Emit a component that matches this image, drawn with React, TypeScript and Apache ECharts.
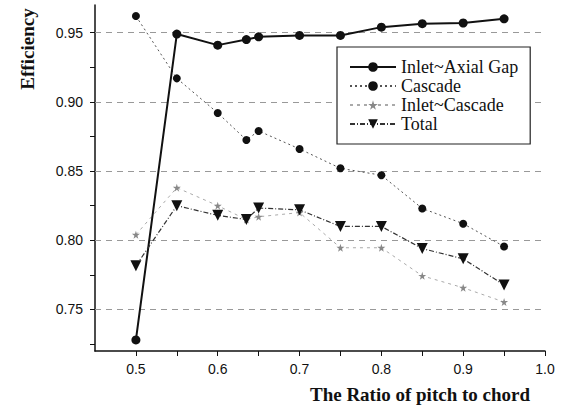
import React, { useEffect, useRef } from "react";
import * as echarts from "echarts";

const pitchRatio = [0.5, 0.55, 0.6, 0.635, 0.65, 0.7, 0.75, 0.8, 0.85, 0.9, 0.95];
const inletAxialGap = [0.728, 0.949, 0.941, 0.945, 0.947, 0.948, 0.948, 0.954, 0.9565, 0.957, 0.96];
const cascade = [0.962, 0.917, 0.892, 0.8725, 0.879, 0.866, 0.852, 0.847, 0.823, 0.812, 0.7955];
const inletCascade = [0.804, 0.838, 0.825, 0.815, 0.817, 0.82, 0.7946, 0.7946, 0.7743, 0.7657, 0.7554];
const total = [0.7816, 0.825, 0.818, 0.815, 0.8233, 0.822, 0.81, 0.81, 0.794, 0.7866, 0.7677];

const xLabels = [0.5, 0.6, 0.7, 0.8, 0.9, 1.0];
const xTicks = [0.5, 0.55, 0.6, 0.65, 0.7, 0.75, 0.8, 0.85, 0.9, 0.95, 1.0];
const yLabels = [0.75, 0.8, 0.85, 0.9, 0.95];
const yTicks = [0.725, 0.75, 0.775, 0.8, 0.825, 0.85, 0.875, 0.9, 0.925, 0.95];

const pairs = (ys: number[]) => pitchRatio.map((x, i) => [x, ys[i]]);

const STAR =
  "path://M50,0 L61,35 L98,35 L68,57 L79,91 L50,70 L21,91 L32,57 L2,35 L39,35 Z";

export default function App() {
  const ref = useRef<HTMLDivElement>(null);
  useEffect(() => {
    document.body.style.margin = "0";
    if (!ref.current) return;
    const chart = echarts.init(ref.current, null, { renderer: "svg" });
    const serif = "Liberation Serif";
    const sans = "Liberation Sans";
    chart.setOption({
      animation: false,
      backgroundColor: "#ffffff",
      textStyle: { fontFamily: serif },
      grid: { left: 95, right: 19, top: 5, bottom: 57, containLabel: false },
      xAxis: {
        type: "value",
        min: 0.45,
        max: 1.0,
        axisLine: { show: true, lineStyle: { color: "#111", width: 1.5 } },
        axisTick: { show: true, customValues: xTicks, length: 5, lineStyle: { color: "#111" } },
        axisLabel: {
          customValues: xLabels,
          formatter: (v: number) => v.toFixed(1),
          fontFamily: sans,
          fontSize: 14,
          color: "#111",
          margin: 11,
        },
        splitLine: { show: false },
      },
      yAxis: {
        type: "value",
        min: 0.72,
        max: 0.97,
        axisLine: { show: true, lineStyle: { color: "#111", width: 1.5 } },
        axisTick: { show: true, customValues: yTicks, length: 5, lineStyle: { color: "#111" } },
        axisLabel: {
          customValues: yLabels,
          formatter: (v: number) => v.toFixed(2),
          fontFamily: sans,
          fontSize: 14,
          color: "#111",
          margin: 12,
        },
        splitLine: { show: false },
      },
      legend: {
        left: 337,
        top: 47,
        orient: "vertical",
        itemWidth: 46,
        itemHeight: 12,
        itemGap: 1,
        padding: [11, 12, 11, 12],
        borderColor: "#222",
        borderWidth: 1.2,
        backgroundColor: "#fff",
        textStyle: { fontFamily: serif, fontSize: 18, color: "#111" },
        data: ["Inlet~Axial Gap", "Cascade", "Inlet~Cascade", "Total"],
      },
      graphic: [
        {
          type: "text",
          x: 420,
          y: 394,
          style: {
            text: "The Ratio of pitch to chord",
            font: "bold 19px 'Liberation Serif'",
            fill: "#111",
            align: "center",
            verticalAlign: "middle",
          },
        },
        {
          type: "text",
          x: 27,
          y: 49,
          rotation: Math.PI / 2,
          style: {
            text: "Efficiency",
            font: "bold 19px 'Liberation Serif'",
            fill: "#111",
            align: "center",
            verticalAlign: "middle",
          },
        },
      ],
      series: [
        {
          name: "Inlet~Axial Gap",
          type: "line",
          data: pairs(inletAxialGap),
          symbol: "circle",
          symbolSize: 9,
          itemStyle: { color: "#111" },
          lineStyle: { color: "#111", width: 2 },
          z: 5,
          markLine: {
            silent: true,
            symbol: ["none", "none"],
            label: { show: false },
            lineStyle: { color: "#999", type: [6, 5], width: 1 },
            data: yLabels.map((v) => ({ yAxis: v })),
            z: 1,
          },
        },
        {
          name: "Cascade",
          type: "line",
          data: pairs(cascade),
          symbol: "circle",
          symbolSize: 8,
          itemStyle: { color: "#111" },
          lineStyle: { color: "#555", width: 1, type: [2, 3] },
          z: 4,
        },
        {
          name: "Inlet~Cascade",
          type: "line",
          data: pairs(inletCascade),
          symbol: STAR,
          symbolSize: 8,
          itemStyle: { color: "#888" },
          lineStyle: { color: "#aaa", width: 1, type: [3, 4] },
          z: 3,
        },
        {
          name: "Total",
          type: "line",
          data: pairs(total),
          symbol: "triangle",
          symbolRotate: 180,
          symbolSize: 11,
          itemStyle: { color: "#111" },
          lineStyle: { color: "#333", width: 1.2, type: [5, 2, 1, 2] },
          z: 6,
        },
      ],
    });
    return () => chart.dispose();
  }, []);
  return <div ref={ref} style={{ width: 564, height: 408 }} />;
}
